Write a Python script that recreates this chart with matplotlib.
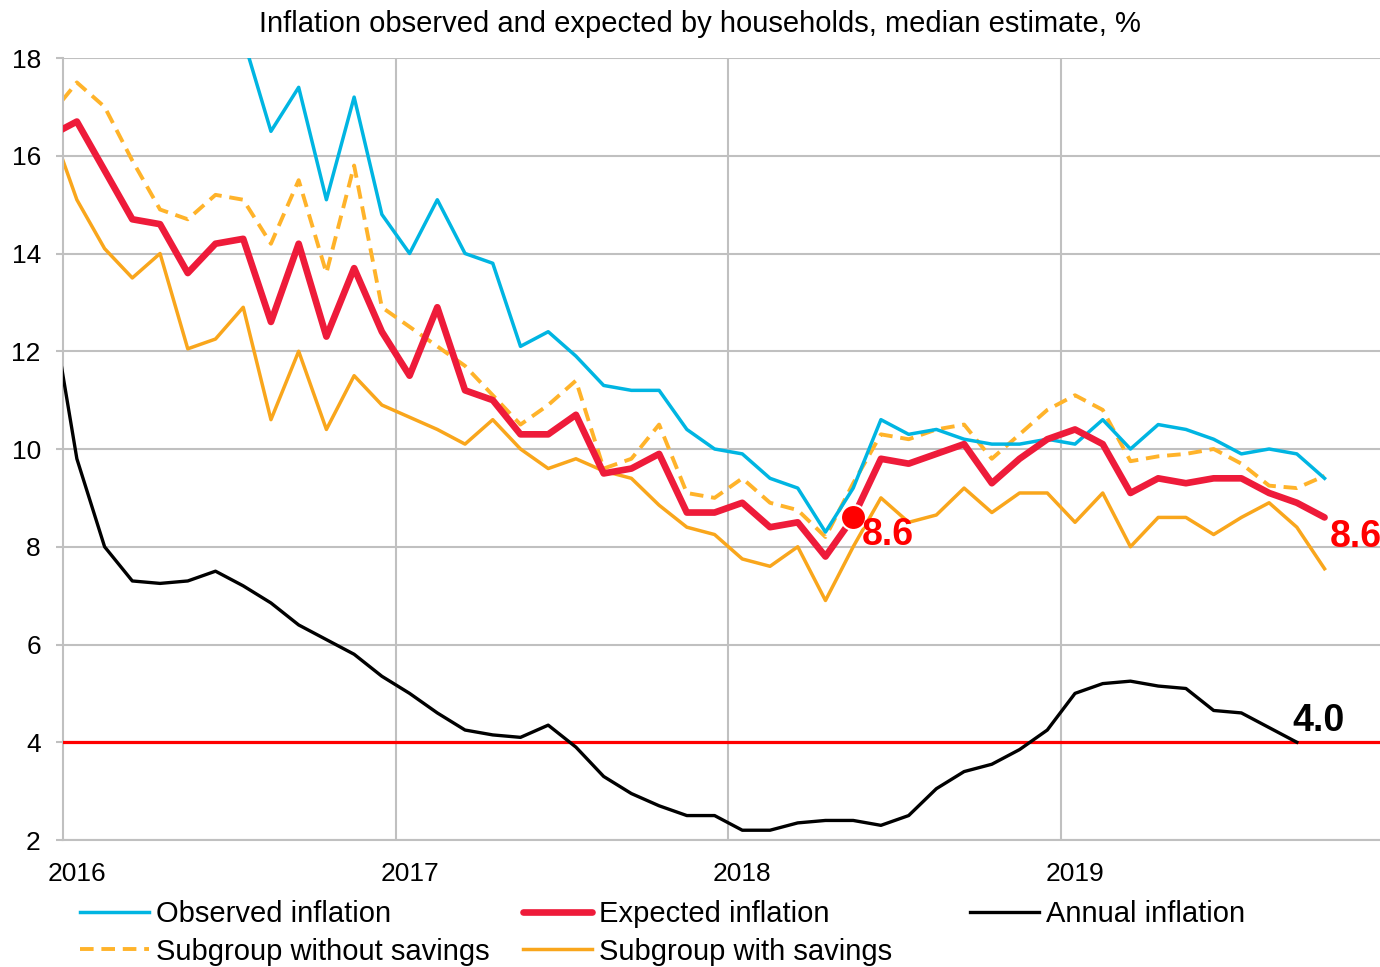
import matplotlib
matplotlib.use('Agg')
import matplotlib.pyplot as plt
import numpy as np

plt.rcParams['font.family'] = ['Liberation Sans', 'DejaVu Sans']

# months counted from Jan 2016 = 0 (Dec 2015 = -1), last month Oct 2019
months = np.arange(-1, 46)
year_labels = ['2016', '2017', '2018', '2019']
nan = np.nan

observed = [nan,
            nan, nan, nan, nan, nan, nan, 18.4, 16.5, 17.4, 15.1, 17.2, 14.8,
            14.0, 15.1, 14.0, 13.8, 12.1, 12.4, 11.9, 11.3, 11.2, 11.2, 10.4, 10.0,
            9.9, 9.4, 9.2, 8.3, 9.2, 10.6, 10.3, 10.4, 10.2, 10.1, 10.1, 10.2,
            10.1, 10.6, 10.0, 10.5, 10.4, 10.2, 9.9, 10.0, 9.9, 9.4]
expected = [16.4,
            16.7, 15.7, 14.7, 14.6, 13.6, 14.2, 14.3, 12.6, 14.2, 12.3, 13.7, 12.4,
            11.5, 12.9, 11.2, 11.0, 10.3, 10.3, 10.7, 9.5, 9.6, 9.9, 8.7, 8.7,
            8.9, 8.4, 8.5, 7.8, 8.6, 9.8, 9.7, 9.9, 10.1, 9.3, 9.8, 10.2,
            10.4, 10.1, 9.1, 9.4, 9.3, 9.4, 9.4, 9.1, 8.9, 8.6]
annual = [13.2,
          9.8, 8.0, 7.3, 7.25, 7.3, 7.5, 7.2, 6.85, 6.4, 6.1, 5.8, 5.35,
          5.0, 4.6, 4.25, 4.15, 4.1, 4.35, 3.9, 3.3, 2.95, 2.7, 2.5, 2.5,
          2.2, 2.2, 2.35, 2.4, 2.4, 2.3, 2.5, 3.05, 3.4, 3.55, 3.85, 4.25,
          5.0, 5.2, 5.25, 5.15, 5.1, 4.65, 4.6, 4.3, 4.0, nan]
no_savings = [16.8,
              17.5, 17.0, 15.9, 14.9, 14.7, 15.2, 15.1, 14.2, 15.5, 13.6, 15.8, 12.9,
              12.5, 12.1, 11.7, 11.1, 10.5, 10.9, 11.4, 9.6, 9.8, 10.5, 9.1, 9.0,
              9.4, 8.9, 8.75, 8.2, 9.3, 10.3, 10.2, 10.4, 10.5, 9.8, 10.3, 10.8,
              11.1, 10.8, 9.75, 9.85, 9.9, 10.0, 9.7, 9.25, 9.2, 9.45]
with_savings = [16.7,
                15.1, 14.1, 13.5, 14.0, 12.05, 12.25, 12.9, 10.6, 12.0, 10.4, 11.5, 10.9,
                10.65, 10.4, 10.1, 10.6, 10.0, 9.6, 9.8, 9.55, 9.4, 8.85, 8.4, 8.25,
                7.75, 7.6, 8.0, 6.9, 8.0, 9.0, 8.5, 8.65, 9.2, 8.7, 9.1, 9.1,
                8.5, 9.1, 8.0, 8.6, 8.6, 8.25, 8.6, 8.9, 8.4, 7.55]
target = 4.0
dot_month = 28      # May 2018

fig = plt.figure(figsize=(13.8, 9.67), dpi=100)
ax = fig.add_axes([63/1380, 1 - 840/967, (1380 - 63)/1380, (840 - 58)/967])

grid_c = '#c0c0c0'
ln_sav, = ax.plot(months, with_savings, color='#f9a61c', lw=2.5, label='Subgroup with savings')
ln_nos, = ax.plot(months, no_savings, color='#ffb32a', lw=2.8, ls=(0, (3.5, 2.0)),
                  label='Subgroup without savings')
ln_obs, = ax.plot(months, observed, color='#00b5e2', lw=2.5, label='Observed inflation')
ax.axhline(target, color='#ff0000', lw=2.3, zorder=3)
ln_ann, = ax.plot(months, annual, color='black', lw=2.4, label='Annual inflation', zorder=4)
ln_exp, = ax.plot(months, expected, color='#ee1b3a', lw=4.8, label='Expected inflation',
                  solid_capstyle='round', zorder=5)
ax.plot([dot_month], [expected[dot_month + 1]], 'o', color='#ff0000', ms=18,
        mec='white', mew=1.5, zorder=6)

ax.annotate('8.6', xy=(dot_month, expected[dot_month + 1]), xytext=(6, -13),
            textcoords='offset points', ha='left', va='center',
            color='#ff0000', fontsize=27, fontweight='bold', zorder=7)
ax.annotate('8.6', xy=(months[-1], expected[-1]), xytext=(3.5, -14),
            textcoords='offset points', ha='left', va='center',
            color='#ff0000', fontsize=27, fontweight='bold', annotation_clip=False)
ax.annotate('4.0', xy=(44, annual[45]), xytext=(-3, 15),
            textcoords='offset points', ha='left', va='center',
            color='black', fontsize=27, fontweight='bold')

ax.set_xlim(-0.5, 47.0)
ax.set_ylim(2, 18)
ax.set_yticks(np.arange(2, 19, 2))
ax.set_xticks([0, 12, 24, 36])
ax.set_xticklabels(year_labels)
ax.set_xticks([11.5, 23.5, 35.5], minor=True)
ax.tick_params(axis='x', which='both', length=0, labelsize=19, pad=16)
ax.tick_params(axis='y', length=5, width=1.5, color=grid_c, labelsize=19, pad=11)
ax.grid(axis='y', color=grid_c, lw=1.5)
ax.grid(axis='x', which='minor', color=grid_c, lw=1.5)
ax.set_axisbelow(True)
for s in ['top', 'right']:
    ax.spines[s].set_visible(False)
for s in ['left', 'bottom']:
    ax.spines[s].set_color(grid_c)
    ax.spines[s].set_linewidth(1.5)

fig.text(0.507, 1 - 24/967, 'Inflation observed and expected by households, median estimate, %',
         ha='center', va='center', fontsize=21)

leg_kw = dict(frameon=False, fontsize=21, loc='upper left', borderpad=0, borderaxespad=0,
              handlelength=2.35, handletextpad=0.25, labelspacing=0.33)
leg_y = 1 - 900/967
leg1 = fig.legend([ln_obs, ln_nos], ['Observed inflation', 'Subgroup without savings'],
                  bbox_to_anchor=(80/1380, leg_y), **leg_kw)
leg2 = fig.legend([ln_exp, ln_sav], ['Expected inflation', 'Subgroup with savings'],
                  bbox_to_anchor=(523/1380, leg_y), **leg_kw)
leg3 = fig.legend([ln_ann], ['Annual inflation'],
                  bbox_to_anchor=(970/1380, leg_y), **leg_kw)

fig.savefig('out.png', dpi=100)
